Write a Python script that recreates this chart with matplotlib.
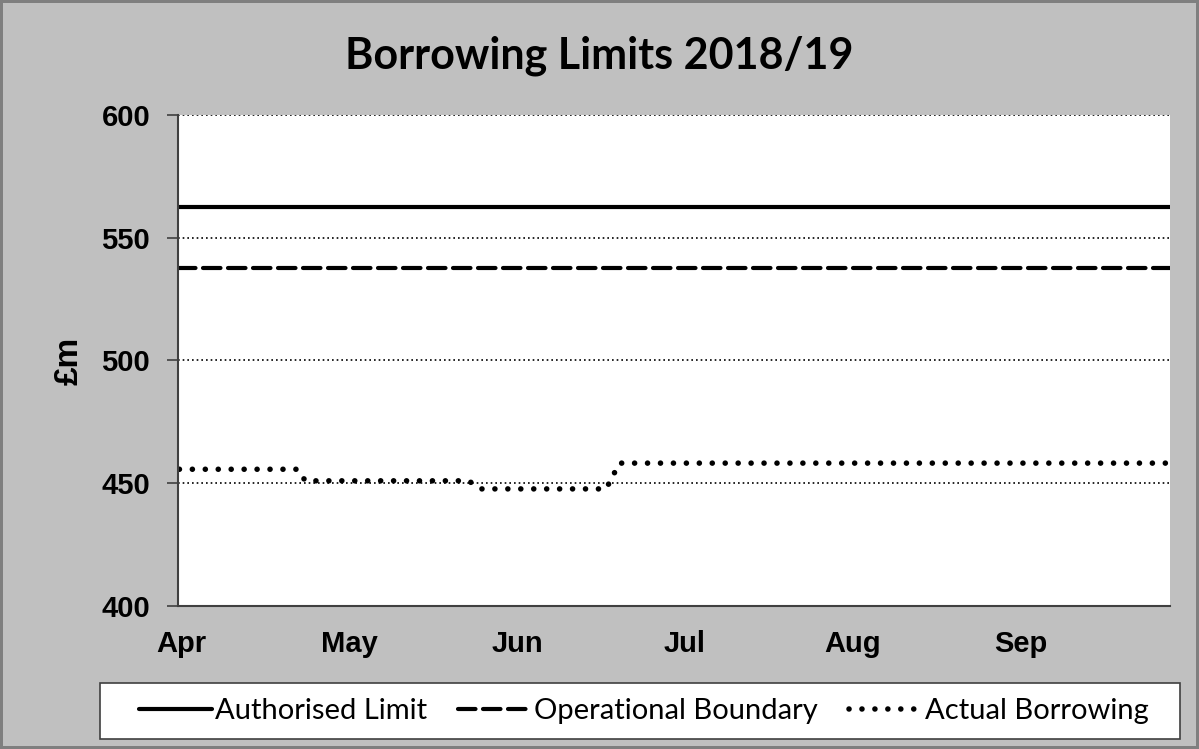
import matplotlib
matplotlib.use("Agg")
import matplotlib.pyplot as plt
from matplotlib.patches import Rectangle

# data
months = ["Apr", "May", "Jun", "Jul", "Aug", "Sep"]
authorised_limit = 562.7
operational_boundary = 537.6
# actual borrowing, x in months from 1 Apr
borrow_x = [-0.01, 0.69, 0.74, 1.71, 1.79, 2.53, 2.61, 5.88]
borrow_y = [455.7, 455.7, 451.0, 451.0, 447.7, 447.7, 458.2, 458.2]
x_range = (-0.018, 5.887)

fig = plt.figure(figsize=(11.99, 7.49), dpi=100)
fig.patch.set_facecolor("#C0C0C0")
fig.patch.set_edgecolor("#7F7F7F")
fig.patch.set_linewidth(3)

ax = fig.add_axes([0.1485, 0.1909, 0.8273, 0.6556])
ax.set_facecolor("white")

l1, = ax.plot(x_range, [authorised_limit] * 2, color="black", lw=3,
              solid_capstyle="round", label="Authorised Limit")
l2, = ax.plot(x_range, [operational_boundary] * 2, color="black", lw=3,
              linestyle=(0, (4.2, 1.8)), dash_capstyle="round",
              label="Operational Boundary")
l3, = ax.plot(borrow_x, borrow_y, color="black", lw=4,
              linestyle=(0, (0.01, 2.32)), dash_capstyle="round",
              label="Actual Borrowing")

ax.set_xlim(*x_range)
ax.set_ylim(400, 600)
ax.set_yticks([400, 450, 500, 550, 600])
ax.set_xticks(range(len(months)))
ax.set_xticklabels(months)
ax.yaxis.grid(True, linestyle=(0, (1, 1.8)), color="black", lw=1.2)
ax.set_axisbelow(True)

for s in ["top", "right"]:
    ax.spines[s].set_visible(False)
for s in ["left", "bottom"]:
    ax.spines[s].set_color("#404040")
    ax.spines[s].set_linewidth(1.5)

ax.tick_params(axis="y", length=8, width=1.2, color="#404040", pad=12)
ax.tick_params(axis="x", length=0, pad=17)
for lab in ax.get_xticklabels() + ax.get_yticklabels():
    lab.set_fontfamily("Liberation Sans")
    lab.set_fontweight("bold")
    lab.set_fontsize(21)

ax.set_ylabel("£m", family="Liberation Sans", weight="bold", fontsize=24,
              labelpad=12)

fig.text(0.5, 0.925, "Borrowing Limits 2018/19", ha="center", va="center",
         fontsize=31, fontweight="bold", family=["Lato", "DejaVu Sans"])

# legend box
fig.patches.append(Rectangle((100 / 1199, 10 / 749), 1080 / 1199, 56 / 749,
                             transform=fig.transFigure, facecolor="white",
                             edgecolor="#404040", lw=1.2))
leg = fig.legend(handles=[l1, l2, l3], loc="center", ncol=3,
                 bbox_to_anchor=(0.537, 0.0507), frameon=False,
                 prop=dict(family="Lato", size=21), handlelength=2.5,
                 handletextpad=0.12, columnspacing=1.05, borderpad=0.3,
                 borderaxespad=0)

fig.savefig("out.png", dpi=100, facecolor=fig.get_facecolor(),
            edgecolor=fig.get_edgecolor())
